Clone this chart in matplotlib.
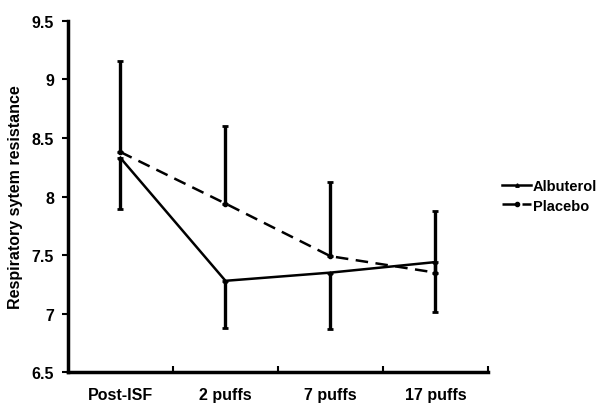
import numpy as np
import matplotlib
matplotlib.use("Agg")
import matplotlib.pyplot as plt

# --- data ---
categories = ["Post-ISF", "2 puffs", "7 puffs", "17 puffs"]
albuterol = [8.33, 7.28, 7.35, 7.44]
placebo = [8.38, 7.94, 7.49, 7.35]
# one-sided error bars: placebo shown upward, albuterol shown downward
placebo_err_up = [0.78, 0.66, 0.63, 0.53]
albuterol_err_down = [0.44, 0.40, 0.48, 0.43]
ytick_vals = [6.5, 7, 7.5, 8, 8.5, 9, 9.5]
ytick_labels = ["6.5", "7", "7.5", "8", "8.5", "9", "9.5"]

plt.rcParams['font.family'] = ['Liberation Sans', 'DejaVu Sans']
plt.rcParams['font.weight'] = 'bold'
fs = 11.5

fig = plt.figure(figsize=(6.01, 4.06), dpi=100)
ax = fig.add_axes([0.113, 0.081, 0.699, 0.865])

x = np.arange(len(categories))
lw = 1.8

# error bars
ax.errorbar(x, placebo, yerr=[np.zeros(len(x)), placebo_err_up], fmt='none',
            ecolor='black', elinewidth=2.4, capsize=2.5, capthick=2, zorder=2)
ax.errorbar(x, albuterol, yerr=[albuterol_err_down, np.zeros(len(x))], fmt='none',
            ecolor='black', elinewidth=2.4, capsize=2.5, capthick=2, zorder=2)

ax.plot(x, albuterol, color='black', lw=lw, marker='^', ms=2.5, label='Albuterol', zorder=3)
ax.plot(x, placebo, color='black', lw=lw, linestyle=(0, (5, 3)), marker='o', ms=3,
        label='Placebo', zorder=3)

ax.set_xlim(-0.5, 3.5)
ax.set_ylim(6.5, 9.5)
ax.set_yticks(ytick_vals)
ax.set_yticklabels(ytick_labels)
ax.set_xticks(x)
ax.set_xticklabels(categories)
ax.set_xticks([0.5, 1.5, 2.5, 3.5], minor=True)

ax.tick_params(axis='x', which='major', length=0, pad=11, labelsize=fs)
ax.tick_params(axis='x', which='minor', direction='in', length=4, width=1.5)
ax.tick_params(axis='y', which='major', direction='out', length=4, width=1.5, labelsize=fs, pad=6)

for side in ['top', 'right']:
    ax.spines[side].set_visible(False)
for side in ['left', 'bottom']:
    ax.spines[side].set_linewidth(2.5)

ax.set_ylabel("Respiratory sytem resistance", fontsize=fs, fontweight='bold', labelpad=6)

leg = ax.legend(loc='upper left', bbox_to_anchor=(0.826, 0.57), bbox_transform=fig.transFigure,
                frameon=False, fontsize=10.5, handlelength=2.0, handletextpad=0.1,
                labelspacing=0.35, borderaxespad=0)
for t in leg.get_texts():
    t.set_fontweight('bold')

fig.savefig("out.png", dpi=100)
